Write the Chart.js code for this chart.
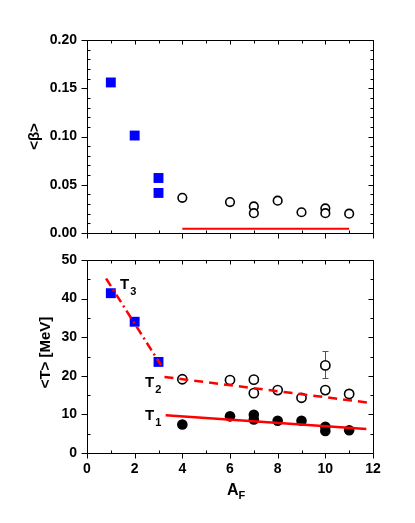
<!DOCTYPE html>
<html><head><meta charset="utf-8">
<script src="https://cdn.jsdelivr.net/npm/chart.js@4.4.0/dist/chart.umd.min.js"></script>
<style>
html,body{margin:0;padding:0;background:#fff;}
#wrap{position:relative;width:415px;height:523px;overflow:hidden;}
canvas{position:absolute;left:0;top:0;}
</style></head><body>
<div id="wrap"><canvas id="c1" width="415" height="523"></canvas><canvas id="c2" width="415" height="523"></canvas></div>
<script>
// ---------- data ----------
const xTickLabels = [0, 2, 4, 6, 8, 10, 12];
const betaTickLabels = ['0.00', '0.05', '0.10', '0.15', '0.20'];
const tTickLabels = [0, 10, 20, 30, 40, 50];

// top panel: <beta>
const betaSqX = [1, 2, 3, 3];
const betaSqY = [0.156, 0.101, 0.057, 0.0415];
const betaOpenX = [4, 6, 7, 7, 8, 9, 10, 10, 11];
const betaOpenY = [0.0365, 0.032, 0.0275, 0.0205, 0.0335, 0.0215, 0.0255, 0.0205, 0.020];
const betaLineX = [4, 11];
const betaLineY = [0.0045, 0.0045];

// bottom panel: <T>
const t3X = [1, 2, 3];
const t3Y = [41.4, 34.0, 23.6];
const t3LineX = [0.8, 3.1];
const t3LineY = [45.2, 22.8];
const t2X = [4, 6, 7, 7, 8, 9, 10, 10, 11];
const t2Y = [19.1, 18.9, 19.0, 15.5, 16.3, 14.3, 22.7, 16.3, 15.3];
const t2LineX = [3.25, 11.75];
const t2LineY = [19.7, 13.1];
const t1X = [4, 6, 7, 7, 8, 9, 10, 10, 11];
const t1Y = [7.4, 9.5, 9.9, 8.7, 8.35, 8.35, 6.8, 5.7, 5.9];
const t1LineX = [3.3, 11.72];
const t1LineY = [9.8, 6.2];
const errX = [10];
const errLo = [19.4];
const errHi = [26.3];

const betaTitle = '<β>';
const tTitle = '<T> [MeV]';
const xTitleMain = 'A';
const xTitleSub = 'F';
const curveLabels = [
  {main: 'T', sub: '3', x: 120, y: 289},
  {main: 'T', sub: '2', x: 145, y: 387},
  {main: 'T', sub: '1', x: 145, y: 420}
];

// ---------- helpers ----------
const FONT = '"Liberation Sans", Arial, Helvetica, sans-serif';
const pts = (xs, ys) => xs.map((x, i) => ({x: x, y: ys[i]}));
const RED = 'rgb(255,0,0)';
const BLUE = 'rgb(0,0,255)';

function framePlugin(opts) {
  return {
    id: 'frame_' + opts.name,
    beforeDatasetsDraw(chart) {
      const ctx = chart.ctx, xs = chart.scales.x, ys = chart.scales.y;
      if (opts.err) {
        ctx.save();
        ctx.strokeStyle = '#555';
        ctx.lineWidth = 1;
        errX.forEach((x, i) => {
          const px = Math.round(xs.getPixelForValue(x)) + 0.5;
          const lo = ys.getPixelForValue(errLo[i]);
          const hi = ys.getPixelForValue(errHi[i]);
          ctx.beginPath();
          ctx.moveTo(px, lo); ctx.lineTo(px, hi);
          ctx.moveTo(px - 3, Math.round(lo) + 0.5); ctx.lineTo(px + 3, Math.round(lo) + 0.5);
          ctx.moveTo(px - 3, Math.round(hi) + 0.5); ctx.lineTo(px + 3, Math.round(hi) + 0.5);
          ctx.stroke();
        });
        ctx.restore();
      }
    },
    afterDraw(chart) {
      const ctx = chart.ctx, a = chart.chartArea, xs = chart.scales.x, ys = chart.scales.y;
      ctx.save();
      ctx.strokeStyle = '#000';
      ctx.lineWidth = 1;
      const L = Math.round(a.left) + 0.5, R = Math.round(a.right) + 0.5;
      const T = Math.round(a.top) + 0.5, B = Math.round(a.bottom) + 0.5;
      ctx.beginPath();
      ctx.rect(L, T, R - L, B - T);
      // x ticks
      for (let i = 0; i <= 12; i++) {
        const px = Math.round(xs.getPixelForValue(i)) + 0.5;
        const major = i % 2 === 0;
        ctx.moveTo(px, B); ctx.lineTo(px, major ? B + 5 : B - 3);
        ctx.moveTo(px, T); ctx.lineTo(px, T + (major ? 4 : 3));
      }
      // y ticks
      const n = Math.round((opts.yMax - opts.yMin) / opts.yMinor);
      for (let i = 0; i <= n; i++) {
        const v = opts.yMin + i * opts.yMinor;
        const py = Math.round(ys.getPixelForValue(v)) + 0.5;
        const major = i % opts.ratio === 0;
        if (major) { ctx.moveTo(L, py); ctx.lineTo(L - 6, py); }
        else { ctx.moveTo(L, py); ctx.lineTo(L + 3, py); }
        ctx.moveTo(R, py); ctx.lineTo(R - (major ? 5 : 3), py);
      }
      ctx.stroke();

      // titles
      ctx.fillStyle = '#000';
      ctx.font = 'bold 15px ' + FONT;
      ctx.textAlign = 'center';
      ctx.textBaseline = 'middle';
      ctx.save();
      ctx.translate(opts.titleX, (a.top + a.bottom) / 2 + opts.titleDy);
      ctx.rotate(-Math.PI / 2);
      ctx.fillText(opts.title, 0, 0);
      ctx.restore();

      if (opts.bottom) {
        ctx.textAlign = 'left';
        ctx.textBaseline = 'alphabetic';
        ctx.font = 'bold 16px ' + FONT;
        ctx.fillText(xTitleMain, 227, 495);
        const wA = ctx.measureText(xTitleMain).width;
        ctx.font = 'bold 11px ' + FONT;
        ctx.fillText(xTitleSub, 227 + wA, 499);
        curveLabels.forEach(c => {
          ctx.font = 'bold 15px ' + FONT;
          ctx.fillText(c.main, c.x, c.y);
          const w = ctx.measureText(c.main).width;
          ctx.font = 'bold 11px ' + FONT;
          ctx.fillText(c.sub, c.x + w + 1, c.y + 6);
        });
      }
      ctx.restore();
    }
  };
}

function baseOptions(o) {
  return {
    responsive: false,
    animation: false,
    devicePixelRatio: 1,
    events: [],
    layout: {padding: {left: 0, right: 415 - o.right, top: o.top, bottom: 0}},
    plugins: {legend: {display: false}, tooltip: {enabled: false}},
    scales: {
      x: {
        type: 'linear', min: 0, max: 12,
        grid: {display: false, drawTicks: false},
        border: {display: false},
        ticks: {
          display: o.showX, stepSize: 2, padding: 8, color: '#000',
          font: {family: FONT, size: 14, weight: 'bold'},
          callback: (v) => xTickLabels.includes(v) ? String(v) : ''
        },
        afterFit: (s) => { s.height = 523 - o.bottom; s.paddingLeft = 0; s.paddingRight = 0; }
      },
      y: {
        type: 'linear', min: o.yMin, max: o.yMax,
        grid: {display: false, drawTicks: false},
        border: {display: false},
        ticks: {
          stepSize: o.yStep, padding: 10, color: '#000',
          font: {family: FONT, size: 14, weight: 'bold'},
          callback: o.yCb
        },
        afterFit: (s) => { s.width = o.left; s.paddingTop = 0; s.paddingBottom = 0; }
      }
    }
  };
}

// ---------- top chart ----------
new Chart(document.getElementById('c1'), {
  type: 'scatter',
  data: {
    datasets: [
      {data: pts(betaLineX, betaLineY), showLine: true, borderColor: RED, borderWidth: 2, pointRadius: 0},
      {data: pts(betaSqX, betaSqY), pointStyle: 'rect', pointRadius: 7, backgroundColor: BLUE, borderColor: BLUE, borderWidth: 0},
      {data: pts(betaOpenX, betaOpenY), pointStyle: 'circle', pointRadius: 4.3, backgroundColor: '#fff', borderColor: '#000', borderWidth: 1.6}
    ]
  },
  options: baseOptions({left: 87, right: 373, top: 40, bottom: 233, showX: false,
    yMin: 0, yMax: 0.2, yStep: 0.05,
    yCb: (v) => betaTickLabels[Math.round(v / 0.05)] || ''}),
  plugins: [framePlugin({name: 'top', yMin: 0, yMax: 0.2, yMinor: 0.01, ratio: 5,
    title: betaTitle, titleX: 35, titleDy: 0, bottom: false, err: false})]
});

// ---------- bottom chart ----------
new Chart(document.getElementById('c2'), {
  type: 'scatter',
  data: {
    datasets: [
      {data: pts(t3LineX, t3LineY), showLine: true, borderColor: RED, borderWidth: 2.5, borderDash: [9, 4, 2, 4], pointRadius: 0},
      {data: pts(t2LineX, t2LineY), showLine: true, borderColor: RED, borderWidth: 2.5, borderDash: [9, 6], pointRadius: 0},
      {data: pts(t1LineX, t1LineY), showLine: true, borderColor: RED, borderWidth: 2.5, pointRadius: 0},
      {data: pts(t3X, t3Y), pointStyle: 'rect', pointRadius: 7, backgroundColor: BLUE, borderColor: BLUE, borderWidth: 0},
      {data: pts(t2X, t2Y), pointStyle: 'circle', pointRadius: 4.6, backgroundColor: '#fff', borderColor: '#000', borderWidth: 1.6},
      {data: pts(t1X, t1Y), pointStyle: 'circle', pointRadius: 5.3, backgroundColor: '#000', borderColor: '#000', borderWidth: 0}
    ]
  },
  options: baseOptions({left: 87, right: 373, top: 260, bottom: 453, showX: true,
    yMin: 0, yMax: 50, yStep: 10,
    yCb: (v) => tTickLabels.includes(v) ? String(v) : ''}),
  plugins: [framePlugin({name: 'bot', yMin: 0, yMax: 50, yMinor: 5, ratio: 2,
    title: tTitle, titleX: 46, titleDy: -4, bottom: true, err: true})]
});
</script>
</body></html>
